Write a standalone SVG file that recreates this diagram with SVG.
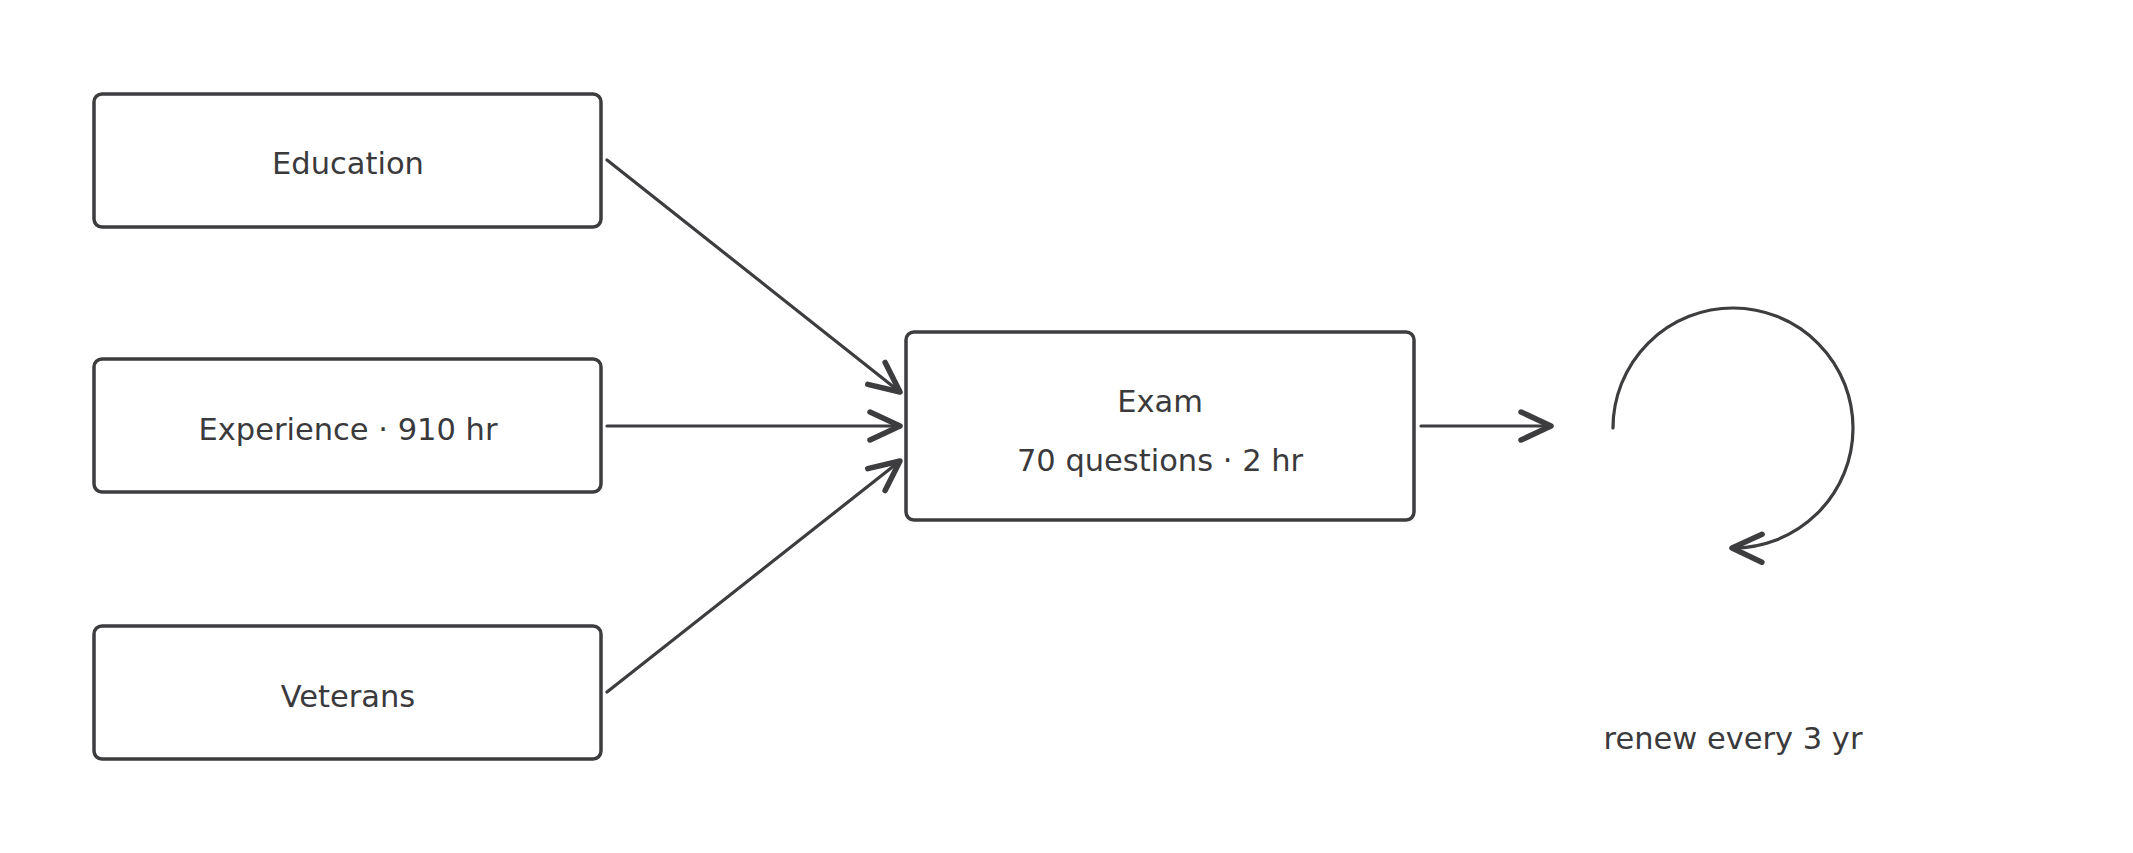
<svg xmlns="http://www.w3.org/2000/svg" width="2133" height="853" viewBox="0 0 2133 853">
<defs>
<style>
.box{fill:#ffffff;stroke:#3d3d40;stroke-width:3.5}
.lbl{font-family:"DejaVu Sans","Liberation Sans",sans-serif;font-size:30.5px;fill:#3a3a3d;text-anchor:middle;dominant-baseline:central}
.con{fill:none;stroke:#3d3d40;stroke-width:3.2;stroke-linecap:round}
</style>
<marker id="ah" markerUnits="userSpaceOnUse" viewBox="-36 -20 42 40" refX="0" refY="0" markerWidth="42" markerHeight="40" orient="auto" overflow="visible">
<path d="M-30,-14 L0,0 L-30,14" fill="none" stroke="#3d3d40" stroke-width="5.5" stroke-linecap="round" stroke-linejoin="round"/>
</marker>
</defs>
<rect width="2133" height="853" fill="#ffffff"/>
<g id="connectors">
<line class="con" x1="607" y1="160" x2="900" y2="392" marker-end="url(#ah)"/>
<line class="con" x1="607" y1="426" x2="900" y2="426" marker-end="url(#ah)"/>
<line class="con" x1="607" y1="692" x2="900" y2="461" marker-end="url(#ah)"/>
<line class="con" x1="1421" y1="426" x2="1551" y2="426" marker-end="url(#ah)"/>
<path class="con" d="M1613,428 A120,120 0 1 1 1732,548" marker-end="url(#ah)"/>
</g>
<g id="node-education">
<rect class="box" x="94" y="94" width="507" height="133" rx="8"/>
<text class="lbl" x="348" y="163">Education</text>
</g>
<g id="node-experience">
<rect class="box" x="94" y="359" width="507" height="133" rx="8"/>
<text class="lbl" x="348" y="429">Experience · 910 hr</text>
</g>
<g id="node-veterans">
<rect class="box" x="94" y="626" width="507" height="133" rx="8"/>
<text class="lbl" x="348" y="696">Veterans</text>
</g>
<g id="node-exam">
<rect class="box" x="906" y="332" width="508" height="188" rx="8"/>
<text class="lbl" x="1160" y="401">Exam</text>
<text class="lbl" x="1160" y="460">70 questions · 2 hr</text>
</g>
<g id="node-renew">
<text class="lbl" x="1733" y="738">renew every 3 yr</text>
</g>
</svg>
